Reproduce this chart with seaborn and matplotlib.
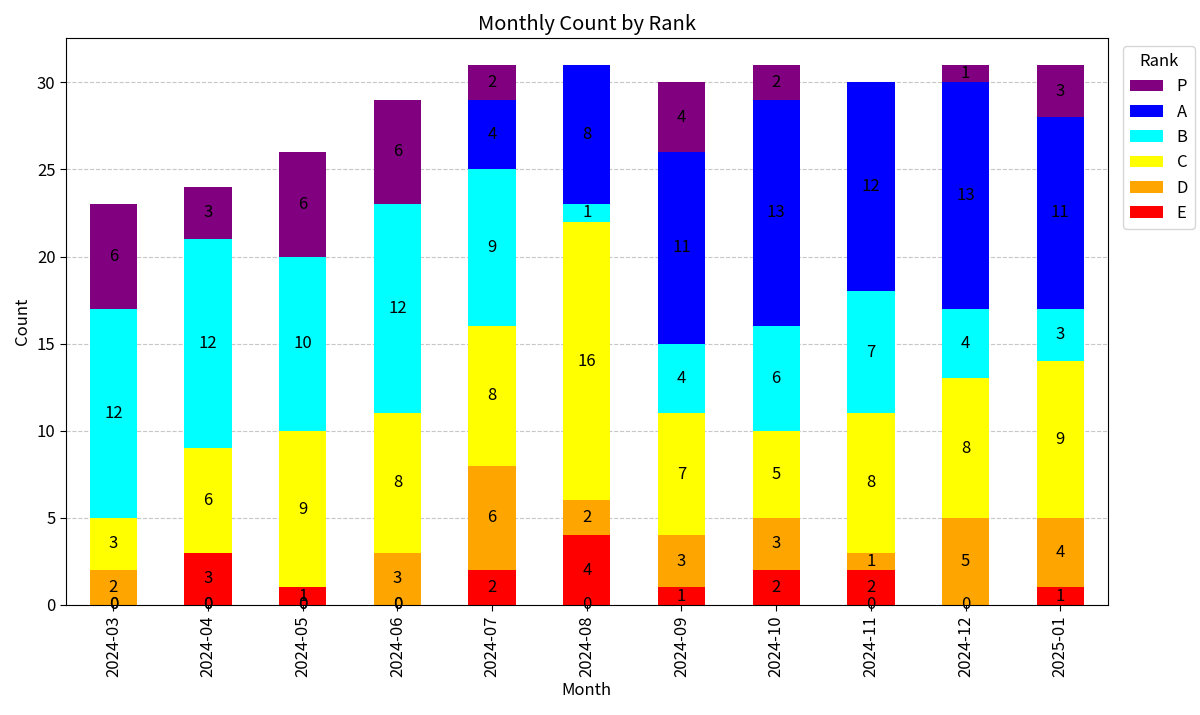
import numpy as np
import pandas as pd
import matplotlib
matplotlib.use("Agg")
import matplotlib.pyplot as plt
import seaborn as sns

months = ["2024-03", "2024-04", "2024-05", "2024-06", "2024-07", "2024-08",
          "2024-09", "2024-10", "2024-11", "2024-12", "2025-01"]
ranks = ["E", "D", "C", "B", "A", "P"]
E = [0, 3, 1, 0, 2, 4, 1, 2, 2, 0, 1]
D = [2, 0, 0, 3, 6, 2, 3, 3, 1, 5, 4]
C = [3, 6, 9, 8, 8, 16, 7, 5, 8, 8, 9]
B = [12, 12, 10, 12, 9, 1, 4, 6, 7, 4, 3]
A = [0, 0, 0, 0, 4, 8, 11, 13, 12, 13, 11]
P = [6, 3, 6, 6, 2, 0, 4, 2, 0, 1, 3]
colors = ["red", "orange", "yellow", "cyan", "blue", "purple"]

sns.set_style("white", {"axes.edgecolor": "black", "text.color": "black",
                        "axes.labelcolor": "black", "xtick.color": "black",
                        "ytick.color": "black", "patch.edgecolor": "none",
                        "grid.color": "#b0b0b0"})
plt.rcParams["font.family"] = ["Noto Sans CJK JP", "DejaVu Sans"]
plt.rcParams["font.size"] = 12

df = pd.DataFrame({"E": E, "D": D, "C": C, "B": B, "A": A, "P": P}, index=months)
df.index.name = "Month"

fig, ax = plt.subplots(figsize=(12, 7.15), dpi=100)
df.plot(kind="bar", stacked=True, color=colors, ax=ax, edgecolor="none", linewidth=0)

for c in ax.containers:
    ax.bar_label(c, label_type="center", fontsize=12, color="black")

ax.set_title("Monthly Count by Rank", fontsize=14.5)
ax.set_xlabel("Month")
ax.set_ylabel("Count")
ax.grid(axis="y", linestyle="--", alpha=0.7)
ax.set_axisbelow(True)
ax.tick_params(axis="both", which="both", length=4, width=0.8, color="black",
               bottom=True, left=True)

h, l = ax.get_legend_handles_labels()
ax.legend(h[::-1], l[::-1], title="Rank", bbox_to_anchor=(1.007, 1), loc="upper left")

plt.subplots_adjust(left=0.055, right=0.923, top=0.947, bottom=0.154)
plt.savefig("out.png")
